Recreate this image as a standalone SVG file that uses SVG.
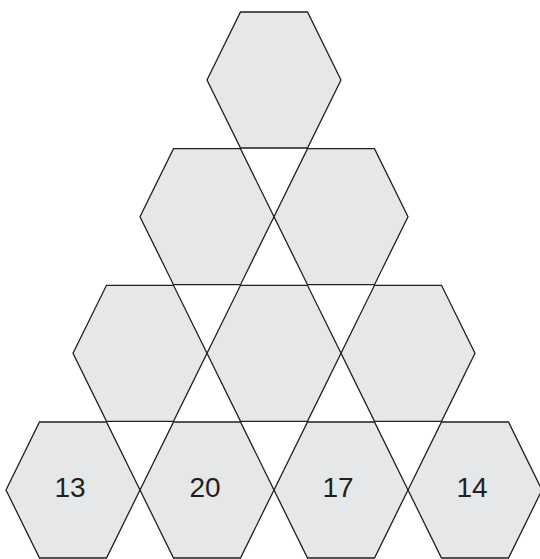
<svg xmlns="http://www.w3.org/2000/svg" width="540" height="559" viewBox="0 0 540 559">
<defs>
<style>
.hex{fill:#e6e7e8;stroke:#231f20;stroke-width:1.3;stroke-linejoin:miter}
.lbl{font-family:"Liberation Sans",Arial,sans-serif;font-size:28px;fill:#231f20;text-anchor:middle}
</style>
<polygon id="hx" points="-67,0 -33.5,-68 33.5,-68 67,0 33.5,68 -33.5,68"/>
</defs>
<rect width="540" height="559" fill="#ffffff"/>
<g id="row1">
<g id="h1"><use href="#hx" class="hex" x="274" y="80"/></g>
</g>
<g id="row2">
<g id="h2"><use href="#hx" class="hex" x="207" y="216.7"/></g>
<g id="h3"><use href="#hx" class="hex" x="341" y="216.7"/></g>
</g>
<g id="row3">
<g id="h4"><use href="#hx" class="hex" x="140" y="353.3"/></g>
<g id="h5"><use href="#hx" class="hex" x="274" y="353.3"/></g>
<g id="h6"><use href="#hx" class="hex" x="408" y="353.3"/></g>
</g>
<g id="row4">
<g id="h7"><use href="#hx" class="hex" x="73" y="490"/><text class="lbl" x="70" y="497">13</text></g>
<g id="h8"><use href="#hx" class="hex" x="207" y="490"/><text class="lbl" x="205" y="497">20</text></g>
<g id="h9"><use href="#hx" class="hex" x="341" y="490"/><text class="lbl" x="338" y="497">17</text></g>
<g id="h10"><use href="#hx" class="hex" x="475" y="490"/><text class="lbl" x="472" y="497">14</text></g>
</g>
<g id="connectors"></g>
</svg>
